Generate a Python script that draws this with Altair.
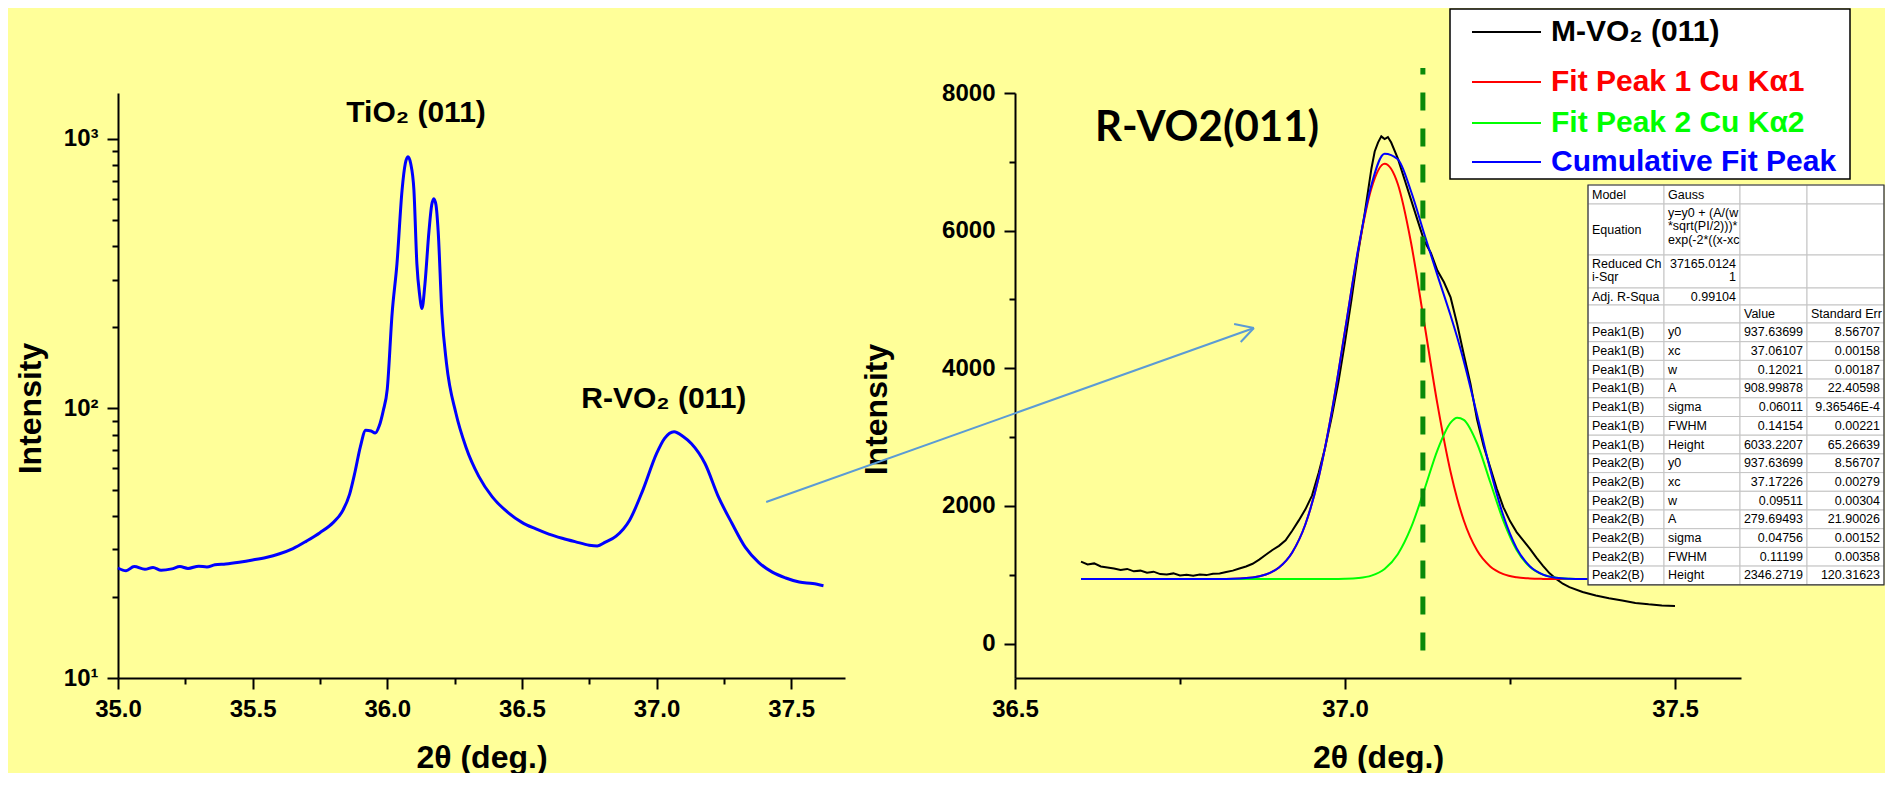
import altair as alt
import pandas as pd

FONT = "Liberation Sans"

# ---------------- left panel: wide 2theta scan (log intensity) ----------------
scan_2theta = [35.00, 35.03, 35.06, 35.10, 35.13, 35.16, 35.20, 35.23, 35.26, 35.30, 35.33, 35.36,
               35.40, 35.45, 35.50, 35.55, 35.60, 35.65, 35.70, 35.75, 35.80, 35.83, 35.86, 35.88,
               35.90, 35.92, 35.94, 35.955, 35.97, 35.985, 36.00, 36.018, 36.036, 36.055, 36.067,
               36.077, 36.087, 36.099, 36.11, 36.12, 36.129, 36.14, 36.155, 36.165, 36.173, 36.181,
               36.189, 36.203, 36.22, 36.255, 36.292, 36.34, 36.39, 36.45, 36.50, 36.55, 36.60,
               36.65, 36.70, 36.75, 36.78, 36.81, 36.85, 36.90, 36.95, 37.00, 37.03, 37.065, 37.10,
               37.13, 37.18, 37.23, 37.28, 37.33, 37.38, 37.43, 37.48, 37.53, 37.58, 37.62]
scan_intensity = [25.6, 25.0, 25.9, 25.3, 25.7, 25.1, 25.4, 25.9, 25.5, 26.0, 25.8, 26.3,
                  26.5, 26.9, 27.4, 28.0, 28.9, 30.2, 32.2, 34.6, 37.8, 41.0, 48.0, 58.0,
                  72.0, 83.0, 82.5, 81.0, 86.0, 98.0, 118, 225, 344, 646, 810,
                  858, 810, 646, 344, 265, 235, 290, 456, 568, 600, 568,
                  456, 225, 147, 96, 72, 56, 47, 41, 37.8, 35.8, 34.2,
                  33.0, 32.0, 31.1, 30.9, 31.9, 33.6, 38.5, 50, 68, 77.5, 82, 78.5,
                  74, 62.5, 47, 37.5, 30.5, 26.8, 24.7, 23.5, 22.7, 22.4, 22.0]
left_x_major = [35.0, 35.5, 36.0, 36.5, 37.0, 37.5]
left_x_minor = [35.25, 35.75, 36.25, 36.75, 37.25]
left_y_major = [10, 100, 1000]
left_y_minor = [20, 30, 40, 50, 60, 70, 80, 90, 200, 300, 400, 500, 600, 700, 800, 900]
left_labels = ["TiO₂ (011)", "R-VO₂ (011)"]
left_label_2theta = [36.107, 37.027]
left_label_intensity = [1156, 100]

# ---------------- right panel: M-VO2 (011) peak and Gaussian fits ----------------
peak_2theta = [36.60, 36.61, 36.62, 36.63, 36.64, 36.65, 36.66, 36.67, 36.68, 36.69, 36.70,
               36.71, 36.72, 36.73, 36.74, 36.75, 36.76, 36.77, 36.78, 36.79, 36.80, 36.81,
               36.82, 36.83, 36.84, 36.85, 36.86, 36.87, 36.88, 36.89, 36.90, 36.91, 36.92,
               36.93, 36.94, 36.95, 36.96, 36.97, 36.98, 36.99, 37.00, 37.01, 37.02, 37.03,
               37.04, 37.045, 37.05, 37.055, 37.06, 37.065, 37.07, 37.08, 37.09, 37.10, 37.11,
               37.12, 37.13, 37.14, 37.15, 37.16, 37.17, 37.18, 37.19, 37.20, 37.21, 37.22,
               37.23, 37.24, 37.25, 37.26, 37.27, 37.28, 37.29, 37.30, 37.31, 37.32, 37.33,
               37.34, 37.36, 37.38, 37.40, 37.42, 37.44, 37.46, 37.48, 37.50]
peak_intensity = [1190, 1150, 1165, 1120, 1105, 1090, 1070, 1085, 1050, 1060, 1030,
                  1045, 1010, 1005, 1020, 990, 1000, 985, 1005, 995, 1015, 1020,
                  1040, 1060, 1090, 1120, 1160, 1220, 1290, 1360, 1420, 1500, 1640,
                  1790, 1950, 2150, 2480, 2850, 3300, 3800, 4380, 5010, 5680, 6260,
                  6900, 7150, 7280, 7370, 7330, 7360, 7280, 7050, 6750, 6450, 6150,
                  5850, 5680, 5420, 5250, 5030, 4640, 4200, 3780, 3260, 2870, 2560,
                  2250, 1980, 1780, 1620, 1500, 1380, 1250, 1130, 1020, 940, 870,
                  820, 750, 700, 660, 625, 590, 570, 555, 545]
fit_2theta = [36.60, 36.70, 36.78, 36.82, 36.86, 36.88, 36.90, 36.92, 36.94, 36.96, 36.98,
              37.00, 37.02, 37.04, 37.06, 37.08, 37.10, 37.12, 37.14, 37.16, 37.17, 37.18,
              37.20, 37.22, 37.24, 37.26, 37.28, 37.30, 37.32, 37.34, 37.36, 37.40, 37.45, 37.50]
fit_peak1 = [938, 938, 938, 940, 960, 1003, 1105, 1324, 1734, 2410, 3371,
             4544, 5719, 6614, 6971, 6677, 5827, 4665, 3482, 2493, 2105, 1789,
             1355, 1121, 1010, 963, 946, 940, 938, 938, 938, 938, 938, 938]
fit_peak2 = [938, 938, 938, 938, 938, 938, 938, 938, 938, 938, 938,
             941, 952, 988, 1085, 1299, 1684, 2229, 2809, 3211, 3283, 3251,
             2911, 2348, 1783, 1361, 1116, 1001, 957, 943, 939, 938, 938, 938]
fit_cumulative = [938, 938, 938, 940, 960, 1003, 1105, 1324, 1734, 2410, 3371,
                  4547, 5733, 6664, 7118, 7038, 6573, 5956, 5353, 4766, 4450, 4102,
                  3328, 2531, 1855, 1386, 1124, 1003, 957, 943, 939, 938, 938, 938]
right_x_major = [36.5, 37.0, 37.5]
right_x_minor = [36.75, 37.25]
right_y_major = [0, 2000, 4000, 6000, 8000]
right_y_minor = [1000, 3000, 5000, 7000]
right_title = ["R-VO2(011)"]
right_title_2theta = [36.791]
right_title_intensity = [7303]
marker_2theta = [37.118]
marker_from = [-100]
marker_to = [8363]
# arrow from the left panel's R-VO2 peak into the zoomed panel (shaft + two head strokes)
arrow_x_from = [36.123, 36.862, 36.862]
arrow_y_from = [2057, 4585, 4585]
arrow_x_to = [36.862, 36.832, 36.842]
arrow_y_to = [4585, 4643, 4382]

legend_labels = ["M-VO₂ (011)", "Fit Peak 1 Cu Kα1", "Fit Peak 2 Cu Kα2", "Cumulative Fit Peak"]
legend_colors = ["#000000", "#ff0000", "#00ff00", "#0000ff"]

tbl_label = ["Model", "Equation", "Reduced Ch|i-Sqr", "Adj. R-Squa", ""] + ["Peak1(B)"] * 7 + ["Peak2(B)"] * 7
tbl_param = ["Gauss", "y=y0 + (A/(w|*sqrt(PI/2)))*|exp(-2*((x-xc", "37165.0124|1", "0.99104", ""] + \
            ["y0", "xc", "w", "A", "sigma", "FWHM", "Height"] * 2
tbl_value = ["", "", "", "", "Value",
             "937.63699", "37.06107", "0.12021", "908.99878", "0.06011", "0.14154", "6033.2207",
             "937.63699", "37.17226", "0.09511", "279.69493", "0.04756", "0.11199", "2346.2719"]
tbl_error = ["", "", "", "", "Standard Err",
             "8.56707", "0.00158", "0.00187", "22.40598", "9.36546E-4", "0.00221", "65.26639",
             "8.56707", "0.00279", "0.00304", "21.90026", "0.00152", "0.00358", "120.31623"]

# ---------------- layout ----------------
W_L, W_R, H = 727, 726, 585
XL = alt.Scale(domain=[35.0, 37.7], nice=False, zero=False)
YL = alt.Scale(type="log", domain=[10, 1480], nice=False)
XR = alt.Scale(domain=[36.5, 37.6], nice=False, zero=False)
YR = alt.Scale(domain=[-500, 8000], nice=False, zero=False)


def rx(px):
    return 36.5 + px * (37.6 - 36.5) / W_R


def ry(py):
    return 8000 - py * 8500 / H


def xr(field, **kw):
    return alt.X(field, scale=XR, axis=None, **kw)


def yr(field, **kw):
    return alt.Y(field, scale=YR, axis=None, **kw)


# ---------------- left chart ----------------
left_df = pd.DataFrame({"tt": scan_2theta, "I": scan_intensity})
left_main = alt.Chart(left_df).mark_line(color="#0000ff", strokeWidth=3, interpolate="monotone").encode(
    x=alt.X("tt:Q", scale=XL, title="2θ (deg.)",
            axis=alt.Axis(orient="bottom", values=left_x_major, format=".1f", tickSize=11, labelPadding=8,
                          labelFlush=False, titleY=89, titleBaseline="alphabetic")),
    y=alt.Y("I:Q", scale=YL, title="Intensity",
            axis=alt.Axis(orient="left", values=left_y_major, tickSize=11, labelPadding=9, labelFlush=False,
                          labelExpr="datum.value < 50 ? '10¹' : (datum.value < 500 ? '10²' : '10³')",
                          titlePadding=16, titleY=315)),
)
left_minor = alt.Chart(left_df).mark_point(opacity=0).encode(
    x=alt.X("tt:Q", scale=XL, title=None,
            axis=alt.Axis(orient="bottom", values=left_x_minor, labels=False, tickSize=6, domain=False)),
    y=alt.Y("I:Q", scale=YL, title=None,
            axis=alt.Axis(orient="left", values=left_y_minor, labels=False, tickSize=6, domain=False)),
)
left_ann = alt.Chart(pd.DataFrame({"label": left_labels, "tt": left_label_2theta, "I": left_label_intensity})
                     ).mark_text(font=FONT, fontWeight="bold", fontSize=30, baseline="alphabetic",
                                 align="center", color="black").encode(
    x=alt.X("tt:Q", scale=XL, axis=None), y=alt.Y("I:Q", scale=YL, axis=None), text="label:N")

left = alt.layer(left_main, left_minor, left_ann).resolve_axis(
    x="independent", y="independent").properties(width=W_L, height=H)

# ---------------- right chart ----------------
peak_df = pd.DataFrame({"tt": peak_2theta, "I": peak_intensity})
fit_df = pd.DataFrame({"tt": fit_2theta, "p1": fit_peak1, "p2": fit_peak2, "cum": fit_cumulative})

right_main = alt.Chart(peak_df).mark_line(color="black", strokeWidth=2).encode(
    x=alt.X("tt:Q", scale=XR, title="2θ (deg.)",
            axis=alt.Axis(orient="bottom", values=right_x_major, format=".1f", tickSize=11, labelPadding=8,
                          labelFlush=False, titleY=89, titleBaseline="alphabetic")),
    y=alt.Y("I:Q", scale=YR, title="Intensity",
            axis=alt.Axis(orient="left", values=right_y_major, format="d", tickSize=11, labelPadding=9,
                          labelFlush=False, titlePadding=48, titleY=316)),
)
right_minor = alt.Chart(peak_df).mark_point(opacity=0).encode(
    x=alt.X("tt:Q", scale=XR, title=None,
            axis=alt.Axis(orient="bottom", values=right_x_minor, labels=False, tickSize=6, domain=False)),
    y=alt.Y("I:Q", scale=YR, title=None,
            axis=alt.Axis(orient="left", values=right_y_minor, labels=False, tickSize=6, domain=False)),
)
fit_base = alt.Chart(fit_df)
red = fit_base.mark_line(color="#ff0000", strokeWidth=2, interpolate="monotone").encode(x=xr("tt:Q"), y=yr("p1:Q"))
green = fit_base.mark_line(color="#00ff00", strokeWidth=2, interpolate="monotone").encode(x=xr("tt:Q"), y=yr("p2:Q"))
blue = fit_base.mark_line(color="#0000ff", strokeWidth=2, interpolate="monotone").encode(x=xr("tt:Q"), y=yr("cum:Q"))

marker = alt.Chart(pd.DataFrame({"tt": marker_2theta, "a": marker_from, "b": marker_to})).mark_rule(
    color="#0a8a0a", strokeWidth=5, strokeDash=[18, 18]).encode(x=xr("tt:Q"), y=yr("a:Q"), y2="b:Q")

rtitle = alt.Chart(pd.DataFrame({"label": right_title, "tt": right_title_2theta, "I": right_title_intensity})
                   ).mark_text(font="Lato", fontWeight="bold", fontSize=42, baseline="alphabetic",
                               align="center", color="black").encode(x=xr("tt:Q"), y=yr("I:Q"), text="label:N")

arrow = alt.Chart(pd.DataFrame({"x": arrow_x_from, "y": arrow_y_from, "x2": arrow_x_to, "y2": arrow_y_to})
                  ).mark_rule(color="#5b9bd5", strokeWidth=2).encode(x=xr("x:Q"), y=yr("y:Q"), x2="x2:Q", y2="y2:Q")

# legend (pixel layout relative to the right plot origin)
leg_box = alt.Chart(pd.DataFrame({"x": [rx(435)], "x2": [rx(835)], "y": [ry(-84)], "y2": [ry(86)]})).mark_rect(
    fill="white", stroke="black", strokeWidth=1.5).encode(x=xr("x:Q"), x2="x2:Q", y=yr("y:Q"), y2="y2:Q")
leg_rows = [-61, -11, 30, 69]
leg_df = pd.DataFrame({"label": legend_labels, "color": legend_colors,
                       "x": [rx(457)] * 4, "x2": [rx(526)] * 4, "tx": [rx(536)] * 4,
                       "y": [ry(p) for p in leg_rows]})
leg_lines = alt.Chart(leg_df).mark_rule(strokeWidth=2).encode(
    x=xr("x:Q"), x2="x2:Q", y=yr("y:Q"), color=alt.Color("color:N", scale=None))
leg_text = alt.Chart(leg_df).mark_text(font=FONT, fontWeight="bold", fontSize=30, align="left",
                                       baseline="middle").encode(
    x=xr("tx:Q"), y=yr("y:Q"), text="label:N", color=alt.Color("color:N", scale=None))

# fit report table
col_edges = [573, 649, 725, 792, 869]
row_edges = [92, 111, 162, 195, 212, 230] + [230 + 18.7 * (k + 1) for k in range(14)]
cells = []
for r in range(len(row_edges) - 1):
    for c in range(4):
        cells.append({"x": rx(col_edges[c]), "x2": rx(col_edges[c + 1]),
                      "y": ry(row_edges[r]), "y2": ry(row_edges[r + 1])})
cell_df = pd.DataFrame(cells)
tbl_cells = alt.Chart(cell_df).mark_rect(fill="white", stroke="#c4c4c4", strokeWidth=1).encode(
    x=xr("x:Q"), x2="x2:Q", y=yr("y:Q"), y2="y2:Q")
tbl_border = alt.Chart(pd.DataFrame({"x": [rx(col_edges[0])], "x2": [rx(col_edges[-1])],
                                     "y": [ry(row_edges[0])], "y2": [ry(row_edges[-1])]})).mark_rect(
    fill="transparent", stroke="#333333", strokeWidth=1.2).encode(x=xr("x:Q"), x2="x2:Q", y=yr("y:Q"), y2="y2:Q")


def is_num(s):
    try:
        float(s)
        return True
    except ValueError:
        return False


left_items, right_items = [], []
columns = [tbl_label, tbl_param, tbl_value, tbl_error]
for r in range(len(tbl_label)):
    for c in range(4):
        s = columns[c][r]
        if not s:
            continue
        lines = s.split("|")
        for i, line in enumerate(lines):
            if len(lines) == 1:
                ypx = (row_edges[r] + row_edges[r + 1]) / 2
            else:
                ypx = row_edges[r] + 8.5 + 13.5 * i
            if is_num(line):
                right_items.append({"t": line, "x": rx(col_edges[c + 1] - 4), "y": ry(ypx)})
            else:
                left_items.append({"t": line, "x": rx(col_edges[c] + 4), "y": ry(ypx)})
tbl_text_l = alt.Chart(pd.DataFrame(left_items)).mark_text(
    font=FONT, fontSize=12.5, align="left", baseline="middle", color="black").encode(
    x=xr("x:Q"), y=yr("y:Q"), text="t:N")
tbl_text_r = alt.Chart(pd.DataFrame(right_items)).mark_text(
    font=FONT, fontSize=12.5, align="right", baseline="middle", color="black").encode(
    x=xr("x:Q"), y=yr("y:Q"), text="t:N")

right = alt.layer(right_main, right_minor, red, green, blue, marker, rtitle, arrow,
                  leg_box, leg_lines, leg_text, tbl_cells, tbl_border, tbl_text_l, tbl_text_r).resolve_axis(
    x="independent", y="independent").properties(width=W_R, height=H)

chart = alt.hconcat(left, right, spacing=170, bounds="flush",
                    padding={"left": 6, "top": 0, "right": 0, "bottom": 0}).configure(
    background="#ffff99").configure_view(strokeWidth=0).configure_axis(
    domainColor="black", domainWidth=2, tickColor="black", tickWidth=2, grid=False,
    labelFont=FONT, labelFontSize=24, labelFontWeight="bold", labelColor="black",
    titleFont=FONT, titleFontSize=32, titleFontWeight="bold", titleColor="black")

chart.save("out.html", embed_options={"renderer": "svg", "actions": False})
